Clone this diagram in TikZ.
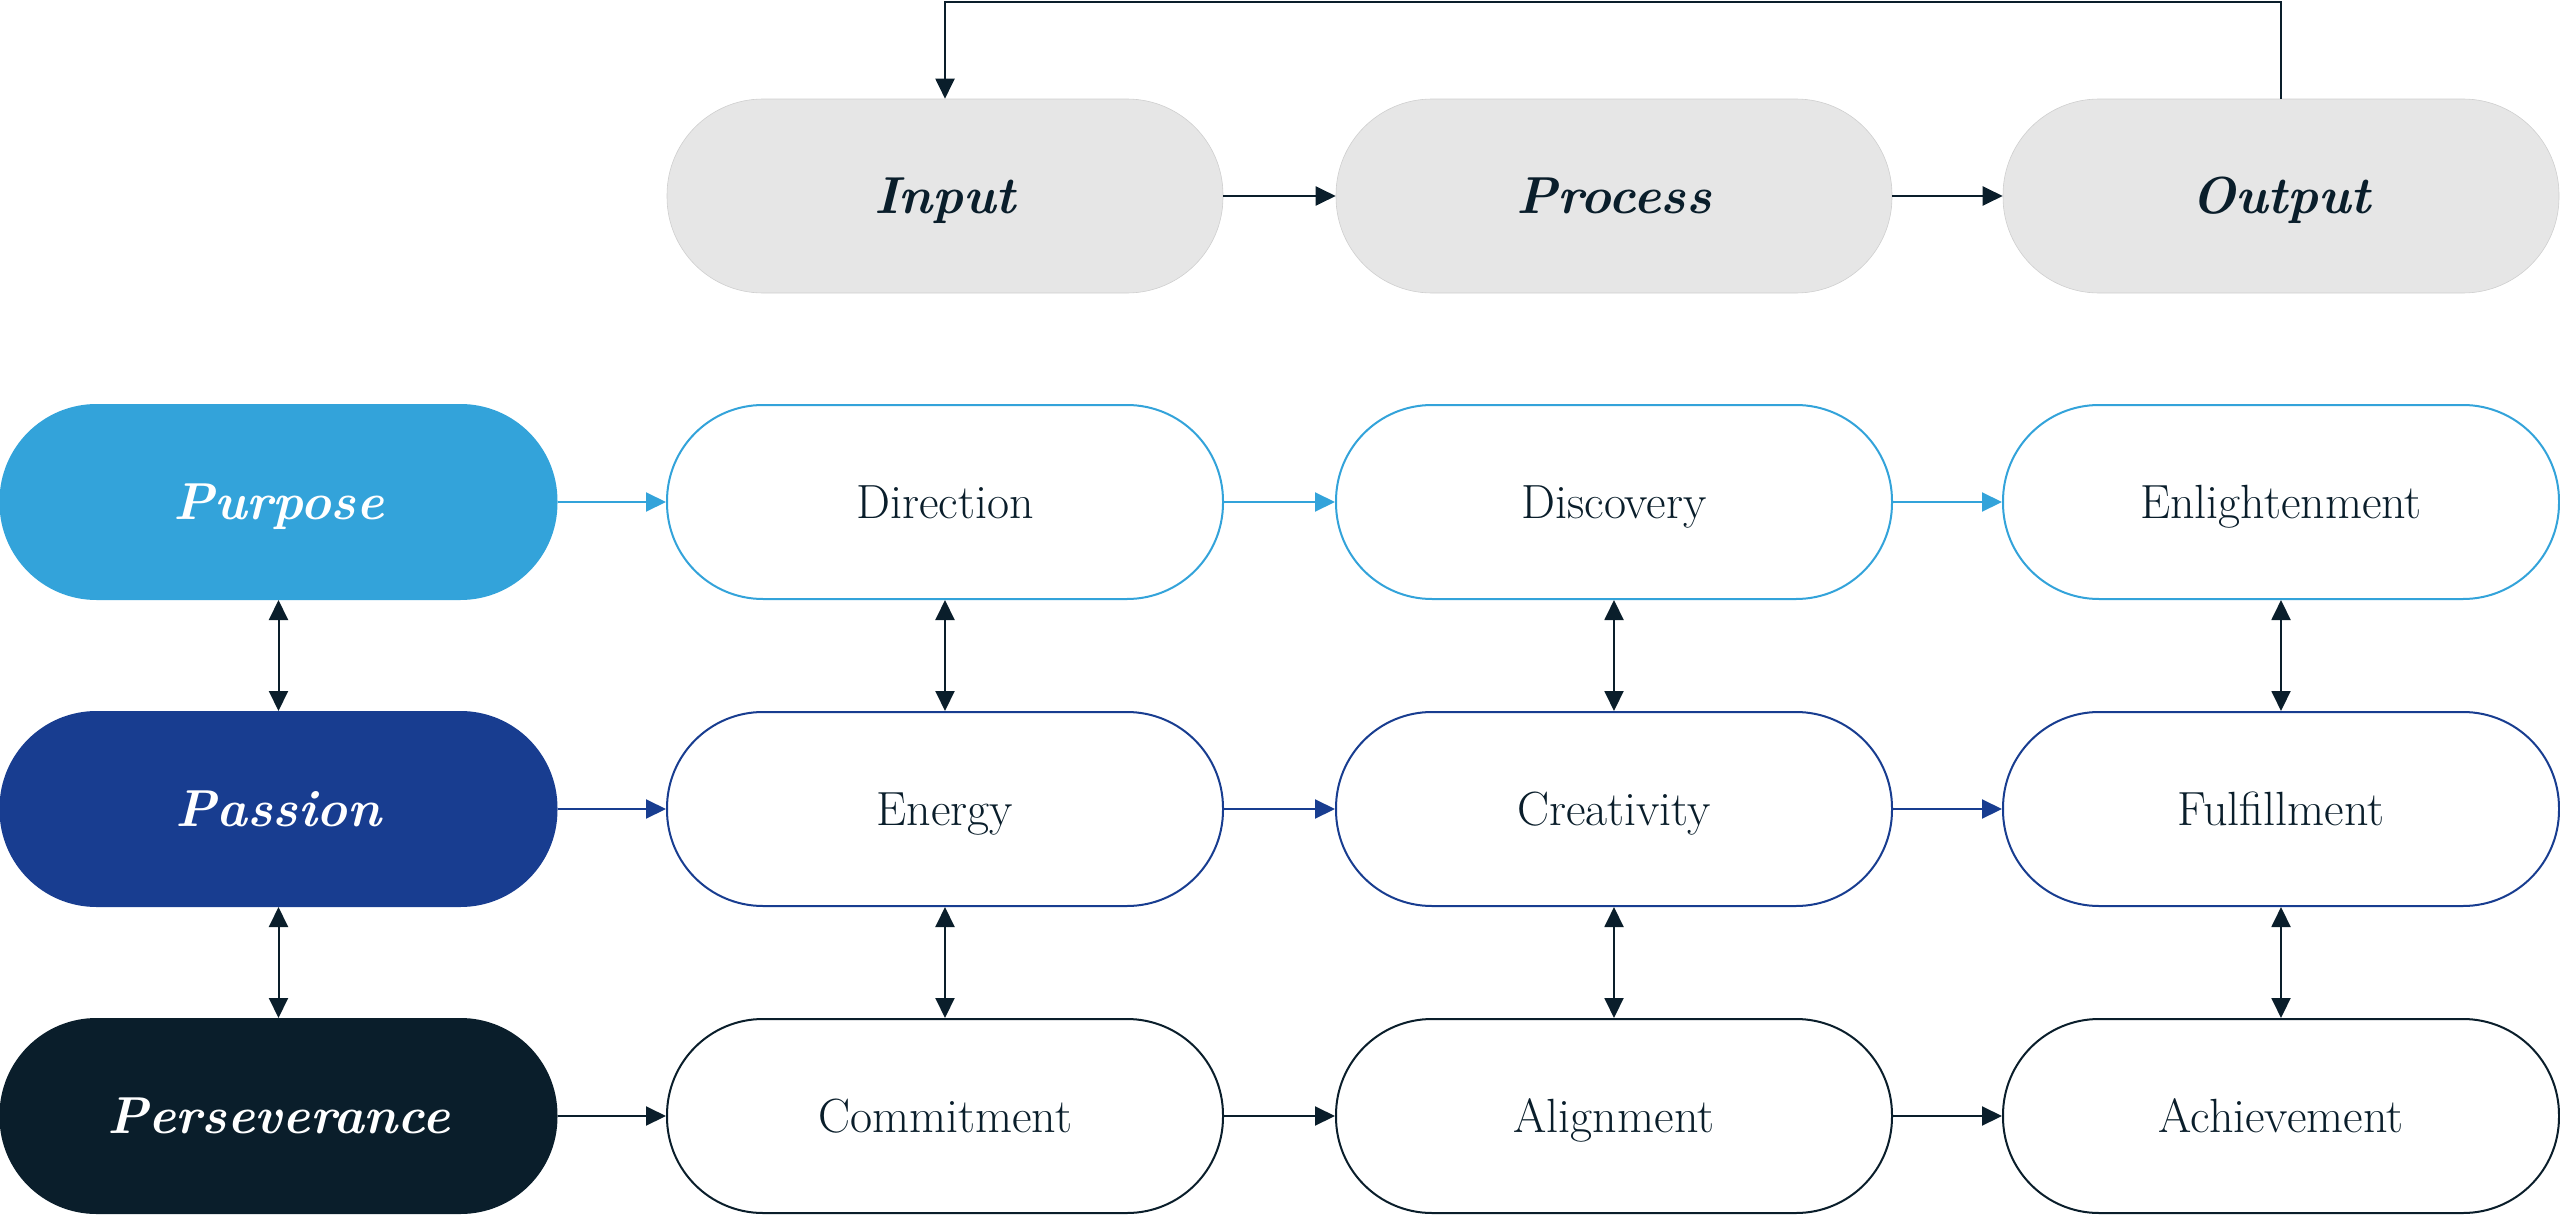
\documentclass[tikz,border=0pt]{standalone}
\usetikzlibrary{arrows.meta}
\definecolor{lblue}{HTML}{33A3DA}
\definecolor{dblue}{HTML}{183D90}
\definecolor{navy}{HTML}{0A1E2B}
\definecolor{pgray}{HTML}{E6E6E6}
\tikzset{
  pill/.style={rectangle, rounded corners=96pt, minimum width=556pt, minimum height=194pt, inner sep=0pt, line width=2pt},
  headlbl/.style={font=\fontsize{52}{60}\selectfont\bfseries\itshape, text height=35.7pt, text depth=0pt},
  innerlbl/.style={font=\fontsize{48}{56}\selectfont, text=navy, text height=32.8pt, text depth=0pt},
  graybox/.style={pill, fill=pgray, draw=pgray!90!black, line width=0.6pt, headlbl, text=navy},
  rowhead/.style={pill, fill=#1, draw=#1, headlbl, text=white},
  rowbox/.style={pill, fill=white, draw=#1, innerlbl},
  conn/.style={line width=2pt, draw=#1, -{Triangle[length=20pt,width=19pt]}},
  vconn/.style={line width=2pt, draw=navy, {Triangle[length=20pt,width=19pt]}-{Triangle[length=20pt,width=19pt]}}
}
\begin{document}
\begin{tikzpicture}[x=1pt,y=1pt]
\useasboundingbox (0,0) rectangle (2560,-1215);
% top row
\node[graybox] (in)  at (945,-196) {Input};
\node[graybox] (pr)  at (1614,-196) {Process};
\node[graybox] (out) at (2281,-196) {Output};
% row 1
\node[rowhead=lblue] (pu) at (278.5,-502) {Purpose};
\node[rowbox=lblue] (di) at (945,-502) {Direction};
\node[rowbox=lblue] (ds) at (1614,-502) {Discovery};
\node[rowbox=lblue] (en) at (2281,-502) {Enlightenment};
% row 2
\node[rowhead=dblue] (pa) at (278.5,-809) {Passion};
\node[rowbox=dblue] (ee) at (945,-809) {Energy};
\node[rowbox=dblue] (cr) at (1614,-809) {Creativity};
\node[rowbox=dblue] (fu) at (2281,-809) {Fulfillment};
% row 3
\node[rowhead=navy] (pe) at (278.5,-1116) {Perseverance};
\node[rowbox=navy] (co) at (945,-1116) {Commitment};
\node[rowbox=navy] (al) at (1614,-1116) {Alignment};
\node[rowbox=navy] (ac) at (2281,-1116) {Achievement};
% top connectors
\draw[conn=navy] (in) -- (pr);
\draw[conn=navy] (pr) -- (out);
\coordinate (tr) at (2281,-2);
\coordinate (tl) at (945,-2);
\draw[conn=navy] (out.north) -- (tr) -- (tl) -- (in.north);
% row connectors
\draw[conn=lblue] (pu) -- (di);
\draw[conn=lblue] (di) -- (ds);
\draw[conn=lblue] (ds) -- (en);
\draw[conn=dblue] (pa) -- (ee);
\draw[conn=dblue] (ee) -- (cr);
\draw[conn=dblue] (cr) -- (fu);
\draw[conn=navy] (pe) -- (co);
\draw[conn=navy] (co) -- (al);
\draw[conn=navy] (al) -- (ac);
% vertical connectors
\draw[vconn] (pu) -- (pa);
\draw[vconn] (pa) -- (pe);
\draw[vconn] (di) -- (ee);
\draw[vconn] (ee) -- (co);
\draw[vconn] (ds) -- (cr);
\draw[vconn] (cr) -- (al);
\draw[vconn] (en) -- (fu);
\draw[vconn] (fu) -- (ac);
\end{tikzpicture}
\end{document}
